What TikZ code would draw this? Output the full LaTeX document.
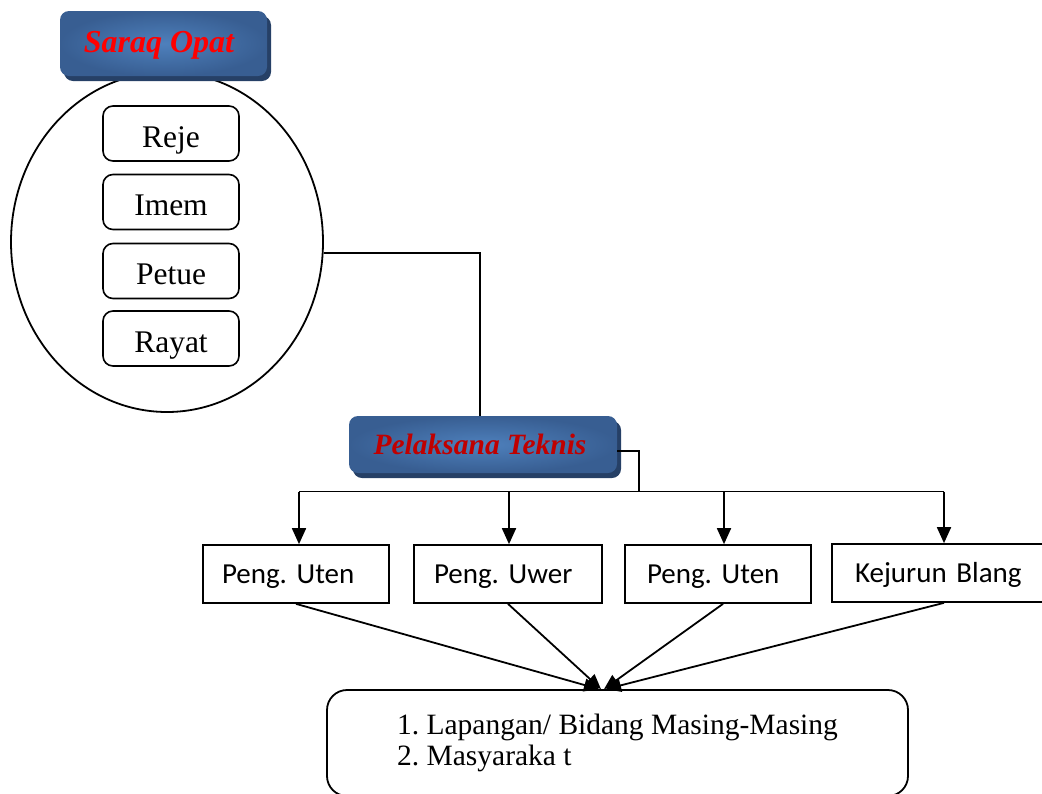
\documentclass[tikz,border=0pt]{standalone}
\usepackage{fontspec}
\setmainfont{Liberation Serif}
\newfontfamily\calibri{Carlito}
\usetikzlibrary{shapes.geometric,arrows.meta,shadows,calc}
\definecolor{bluein}{RGB}{78,128,188}
\definecolor{blueout}{RGB}{56,94,146}
\definecolor{blueshadow}{RGB}{38,64,102}
\definecolor{pkred}{HTML}{C00000}
\frenchspacing
\begin{document}
\begin{tikzpicture}[x=1pt,y=-1pt,
  link/.style={line width=1.8pt},
  arr/.style={link,-{Triangle[width=14pt,length=16pt]}},
  arrs/.style={link,-{Triangle[width=13pt,length=15pt]}},
  tbox/.style={draw,line width=1.6pt,rounded corners=10pt,minimum width=136pt,minimum height=55pt,inner sep=0pt,
    font=\fontsize{31.5}{36}\selectfont,text height=27pt,text depth=0pt},
  titlebox/.style={rounded corners=9pt,shade,inner color=bluein,outer color=blueout,
    drop shadow={shadow xshift=4pt,shadow yshift=-5pt,fill=blueshadow,opacity=1},
    inner sep=0pt,text depth=0pt},
  sbox/.style={draw,line width=1.7pt,minimum height=58pt,inner sep=0pt,text height=19pt,text depth=0pt,
    align=left,font=\calibri\fontsize{29}{34}\selectfont}
]
\useasboundingbox (0,0) rectangle (1042,793);

% Saraq Opat group
\node[ellipse,draw,line width=1.8pt,minimum width=312pt,minimum height=340pt,inner sep=0pt] (el) at (167,242) {};
\node[titlebox,minimum width=207pt,minimum height=65pt,text height=17pt,text=red,
  font=\fontsize{32}{36}\selectfont\bfseries\itshape] (so) at (163.5,43.5) {Saraq Opat\hspace*{9pt}};
\node[tbox] (reje)  at (171,133.5) {Reje};
\node[tbox] (imem)  at (171,202)   {Imem};
\node[tbox] (petue) at (171,271)   {Petue};
\node[tbox] (rayat) at (171,338.5) {Rayat};

% Pelaksana Teknis
\node[titlebox,minimum width=268pt,minimum height=57pt,text height=19pt,text=pkred,
  font=\fontsize{29.5}{34}\selectfont\bfseries\itshape] (pt) at (483,444.5) {Pelaksana Teknis\hspace*{6pt}};
\draw[link] (el.-4.4) -| ([xshift=-3pt]pt.north);

% lower boxes
\node[sbox,minimum width=186pt,text width=148pt,inner xsep=19pt] (b1) at (296,574) {Peng. Uten};
\node[sbox,minimum width=188pt,text width=148pt,inner xsep=20pt] (b2) at (508,574) {Peng. Uwer};
\node[sbox,minimum width=186pt,text width=142pt,inner xsep=22pt] (b3) at (718,574) {Peng. Uten};
\node[sbox,minimum width=224pt,text width=178pt,inner xsep=23pt] (b4) at (944,573) {Kejurun Blang};

\coordinate (bus) at (639,491.5);
\draw[link] ([yshift=-6.5pt]pt.east) -| (bus);
\draw[link] ([xshift=3pt]b1.north |- bus) -- (b4.north |- bus);
\draw[arr] ([xshift=3pt]b1.north |- bus) -- ([xshift=3pt]b1.north);
\draw[arr] ([xshift=1pt]b2.north |- bus) -- ([xshift=1pt]b2.north);
\draw[arr] ([xshift=6pt]b3.north |- bus) -- ([xshift=6pt]b3.north);
\draw[arr] (b4.north |- bus) -- (b4.north);

% bottom box
\node[draw,link,rounded corners=20pt,minimum width=581pt,minimum height=106pt,inner sep=0pt,
  align=left,font=\fontsize{29.5}{31}\selectfont] (bot) at (617.5,743)
  {1. Lapangan/ Bidang Masing-Masing\\2. Masyaraka t};

\draw[arrs] (b1.south) -- ([xshift=-18.5pt]bot.north);
\draw[arrs] (b2.south) -- ([xshift=-16.5pt]bot.north);
\draw[arrs] ([xshift=5pt]b3.south) -- ([xshift=-13.5pt]bot.north);
\draw[arrs] (b4.south) -- ([xshift=-11.5pt]bot.north);
\end{tikzpicture}
\end{document}
